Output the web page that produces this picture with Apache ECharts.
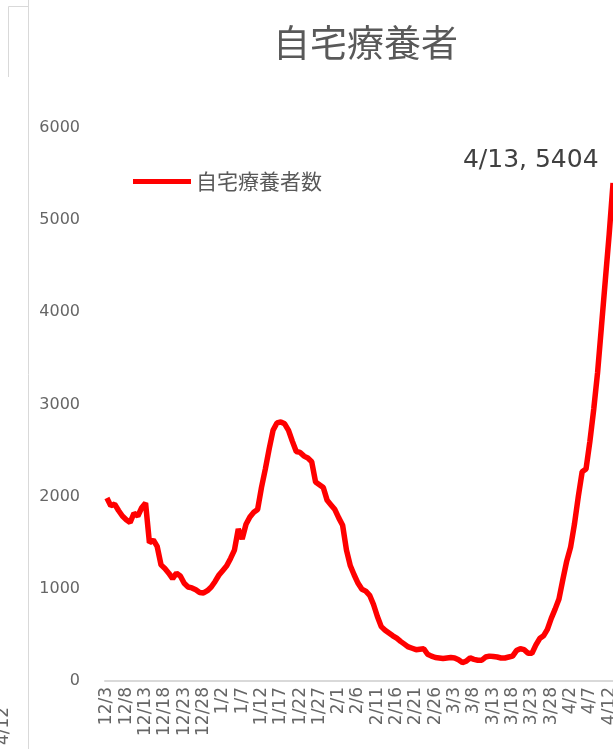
<!DOCTYPE html>
<html><head><meta charset="utf-8">
<script src="https://cdn.jsdelivr.net/npm/echarts@6/dist/echarts.min.js"></script>
<style>html,body{margin:0;padding:0;background:#fff}#c{width:613px;height:749px}</style>
</head><body><div id="c"></div>
<script>
const titleText = '自宅療養者';
const seriesName = '自宅療養者数';
const dates = [
'12/3','12/4','12/5','12/6','12/7','12/8','12/9','12/10','12/11','12/12','12/13','12/14','12/15','12/16','12/17','12/18','12/19','12/20','12/21','12/22','12/23','12/24','12/25','12/26','12/27','12/28','12/29','12/30','12/31',
'1/1','1/2','1/3','1/4','1/5','1/6','1/7','1/8','1/9','1/10','1/11','1/12','1/13','1/14','1/15','1/16','1/17','1/18','1/19','1/20','1/21','1/22','1/23','1/24','1/25','1/26','1/27','1/28','1/29','1/30','1/31',
'2/1','2/2','2/3','2/4','2/5','2/6','2/7','2/8','2/9','2/10','2/11','2/12','2/13','2/14','2/15','2/16','2/17','2/18','2/19','2/20','2/21','2/22','2/23','2/24','2/25','2/26','2/27','2/28',
'3/1','3/2','3/3','3/4','3/5','3/6','3/7','3/8','3/9','3/10','3/11','3/12','3/13','3/14','3/15','3/16','3/17','3/18','3/19','3/20','3/21','3/22','3/23','3/24','3/25','3/26','3/27','3/28','3/29','3/30','3/31',
'4/1','4/2','4/3','4/4','4/5','4/6','4/7','4/8','4/9','4/10','4/11','4/12','4/13'];
const homeCare = [
1985,1900,1920,1850,1790,1750,1720,1820,1790,1880,1930,1500,1530,1460,1260,1220,1170,1110,1170,1140,1060,1020,1010,990,960,955,980,1020,1080,
1150,1200,1250,1330,1420,1650,1540,1700,1780,1830,1860,2100,2300,2520,2720,2800,2810,2790,2720,2600,2490,2480,2440,2420,2380,2160,2130,2100,1960,1910,1860,
1770,1690,1420,1250,1150,1060,995,975,930,830,700,590,550,520,490,465,430,400,370,355,340,345,350,290,270,255,250,245,
250,255,250,230,200,215,250,235,225,225,260,270,265,260,250,250,260,270,330,350,340,300,300,390,460,490,560,680,780,890,1100,
1300,1450,1700,2000,2270,2300,2600,2950,3350,3850,4350,4850,5404];
const yTicks = [0,1000,2000,3000,4000,5000,6000];
const neighbourLabel = '4/12';

const CJK = '"Noto Sans CJK JP","Noto Sans",sans-serif';
const LAT = '"DejaVu Sans","Noto Sans",sans-serif';
const last = homeCare.length - 1;

const chart = echarts.init(document.getElementById('c'), null, { renderer: 'canvas' });
chart.setOption({
  animation: false,
  backgroundColor: '#fff',
  title: { text: titleText, left: 268, top: 19,
    textStyle: { fontSize: 37, fontWeight: 'normal', color: '#595959', fontFamily: CJK } },
  legend: { data: [seriesName], left: 128, top: 166, icon: 'rect', itemWidth: 58, itemHeight: 5,
    textStyle: { fontSize: 21, color: '#595959', fontFamily: CJK } },
  grid: { left: 105, right: -2, top: 128, bottom: 68, containLabel: false, outerBoundsMode: 'none' },
  xAxis: { type: 'category', data: dates, boundaryGap: true,
    axisLine: { lineStyle: { color: '#d9d9d9', width: 2 } },
    axisTick: { show: false },
    axisLabel: { interval: 4, rotate: 90, margin: 6, fontSize: 17, color: '#666666', fontFamily: LAT } },
  yAxis: { type: 'value', min: yTicks[0], max: yTicks[yTicks.length - 1], interval: 1000,
    axisLine: { show: false }, axisTick: { show: false }, splitLine: { show: false },
    axisLabel: { margin: 25, fontSize: 16, color: '#666666', fontFamily: LAT, formatter: v => String(v) } },
  graphic: [
    { type: 'line', shape: { x1: 28.5, y1: 0, x2: 28.5, y2: 749 }, style: { stroke: '#d9d9d9', lineWidth: 1 } },
    { type: 'polyline', shape: { points: [[8.5, 77], [8.5, 6.5], [28.5, 6.5]] }, style: { stroke: '#d9d9d9', lineWidth: 1, fill: null } },
    { type: 'text', x: -5, y: 745, rotation: Math.PI / 2, style: { text: neighbourLabel, fill: '#666666', font: '17px "DejaVu Sans"', textAlign: 'left', textVerticalAlign: 'top' } }
  ],
  series: [{ name: seriesName, type: 'line', data: homeCare, symbol: 'none', clip: false,
    lineStyle: { color: '#ff0000', width: 5.5 }, itemStyle: { color: '#ff0000' },
    markPoint: {
      symbol: 'circle', symbolSize: 1, itemStyle: { color: '#ff0000' },
      data: [{ coord: [dates[last], homeCare[last]], name: dates[last], value: homeCare[last] }],
      label: { show: true, position: 'left', distance: 14, offset: [0, -22],
        formatter: p => p.name + ', ' + p.value,
        fontSize: 25, color: '#404040', fontFamily: LAT }
    } }]
});
</script></body></html>
